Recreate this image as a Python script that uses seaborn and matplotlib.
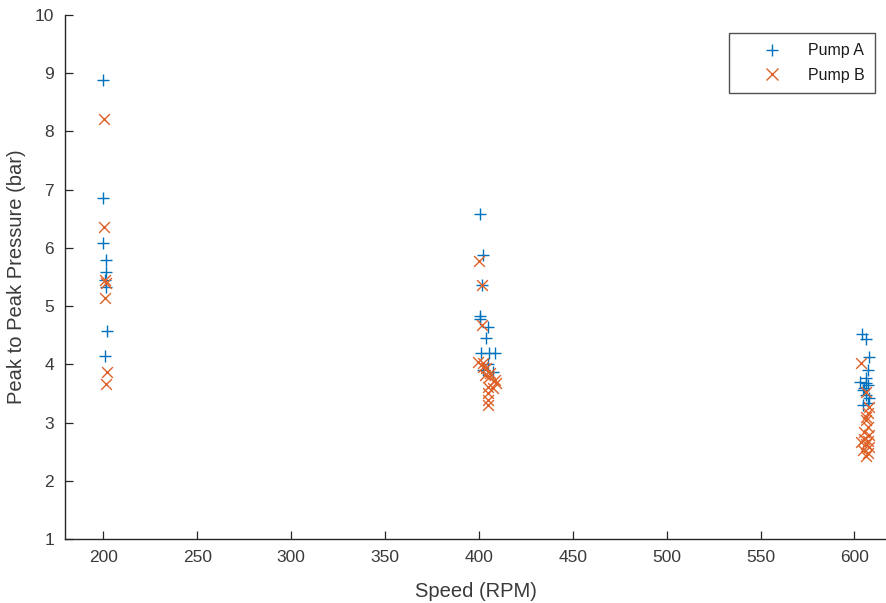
import matplotlib
matplotlib.use("Agg")
import matplotlib.pyplot as plt
from matplotlib.lines import Line2D
import seaborn as sns
import pandas as pd

# Measured peak-to-peak pressure against pump speed
speed_a = [200, 200, 200, 201.5, 201.5, 201, 201.5, 202, 201,
           400.3, 402, 401.7, 400.3, 400.8, 404.7, 403.5, 401, 405.6, 408.3, 402, 407.4, 405,
           604, 606, 607.8, 607, 602.7, 606.2, 607, 604.4, 606.2, 604.4, 607, 608, 605, 606]
pressure_a = [8.88, 6.86, 6.09, 5.80, 5.58, 5.45, 5.33, 4.58, 4.15,
              6.58, 5.88, 5.36, 4.83, 4.78, 4.64, 4.45, 4.19, 4.19, 4.19, 3.90, 3.87, 4.00,
              4.52, 4.43, 4.13, 3.90, 3.70, 3.76, 3.64, 3.56, 3.47, 3.30, 3.33, 3.42, 3.60, 3.68]

speed_b = [200.5, 200.5, 201, 201.5, 201, 202, 201.5,
           400, 401.7, 401.7, 399.4, 402, 403.8, 403, 405.6, 408.3, 409.2, 404.7, 407.4,
           404.7, 404.7, 404.7, 402, 406,
           603.5, 606.2, 608, 607, 606.2, 607, 605.3, 608, 603.5, 606.2, 608, 604.4, 607,
           606.2, 605, 607, 606]
pressure_b = [8.21, 6.36, 5.45, 5.40, 5.14, 3.86, 3.67,
              5.77, 5.36, 4.67, 4.04, 4.02, 3.93, 3.81, 3.79, 3.73, 3.68, 3.61, 3.59,
              3.50, 3.38, 3.30, 3.95, 3.85,
              4.02, 3.53, 3.27, 3.16, 3.04, 2.93, 2.84, 2.78, 2.67, 2.64, 2.58, 2.53, 2.47,
              2.42, 2.72, 2.68, 3.10]

pumps = ["Pump A", "Pump B"]
colors = {"Pump A": "#0072BD", "Pump B": "#DE6128"}
markers = {"Pump A": "+", "Pump B": "x"}

df = pd.concat([
    pd.DataFrame({"speed": speed_a, "pressure": pressure_a, "pump": "Pump A"}),
    pd.DataFrame({"speed": speed_b, "pressure": pressure_b, "pump": "Pump B"}),
], ignore_index=True)

sns.set_theme(style="white")
plt.rcParams["font.family"] = ["Liberation Sans", "DejaVu Sans"]

fig = plt.figure(figsize=(8.86, 6.03), dpi=100)
ax = fig.add_axes([65 / 886, 64 / 603, 821 / 886, 524 / 603])

sizes = {"Pump A": 75, "Pump B": 60}
for pump in pumps:
    sub = df[df["pump"] == pump]
    sns.scatterplot(data=sub, x="speed", y="pressure", marker=markers[pump],
                    color=colors[pump], s=sizes[pump], linewidth=1.0, ax=ax, legend=False)

ax.set_xlim(179.5, 616.8)
ax.set_ylim(1, 10)
ax.set_xticks(range(200, 601, 50))
ax.set_yticks(range(1, 11))

dark = "#262626"
label_grey = "#3a3a3a"
for side in ["top", "right"]:
    ax.spines[side].set_visible(False)
for side in ["left", "bottom"]:
    ax.spines[side].set_color(dark)
    ax.spines[side].set_linewidth(1.0)

ax.tick_params(axis="both", direction="in", length=6, width=0.9, color=dark,
               labelcolor=label_grey, labelsize=12.5, pad=8, left=True, bottom=True)
ax.set_xlabel("Speed (RPM)", fontsize=14.5, color=label_grey, labelpad=12)
ax.set_ylabel("Peak to Peak Pressure (bar)", fontsize=14.5, color=label_grey, labelpad=6)

handles = [Line2D([], [], linestyle="none", marker=markers[p], color=colors[p],
                  markersize=9, markeredgewidth=1.0) for p in pumps]
leg = ax.legend(handles, pumps, loc="upper right",
                bbox_to_anchor=((875 - 65) / 821, 1 - 18 / 524), borderaxespad=0,
                fontsize=11.5, frameon=True, fancybox=False, borderpad=0.65,
                handletextpad=0.2, handlelength=4.1, labelspacing=0.6)
leg.get_frame().set_edgecolor(dark)
leg.get_frame().set_linewidth(1.0)
for t in leg.get_texts():
    t.set_color("#1a1a1a")

fig.savefig("out.png", dpi=100)
